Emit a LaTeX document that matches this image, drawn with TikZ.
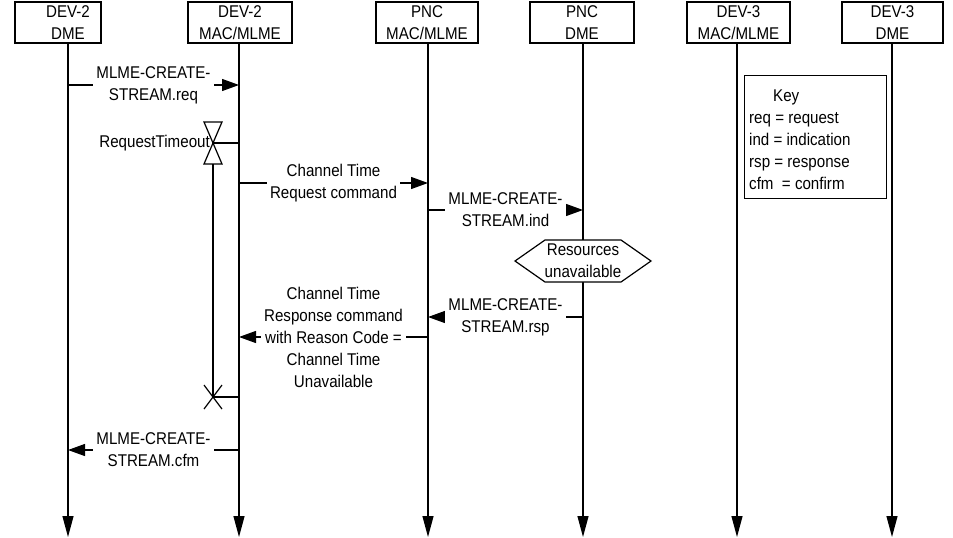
\documentclass[tikz,border=0pt]{standalone}
\usepackage{fontspec}
\setmainfont{Liberation Sans}[FakeStretch=0.89]
\usetikzlibrary{arrows.meta}
\begin{document}
\begin{tikzpicture}[x=1pt,y=-1pt,
  every node/.style={font=\fontsize{17}{22}\selectfont, inner sep=0pt},
  hdr/.style={draw, line width=1.2pt, minimum height=41pt, inner sep=0pt},
  life/.style={line width=1.2pt, -{Triangle[length=21pt,width=11pt]}},
  msg/.style={line width=1.2pt, -{Triangle[length=17pt,width=12pt]}},
  thin/.style={line width=1.2pt},
  lbl/.style={fill=white, align=center, inner xsep=3pt, inner ysep=1pt},
]
\useasboundingbox (0,0) rectangle (953,538);
% header boxes
\node[hdr, minimum width=86pt]  (h1) at (58,22.5) {};
\node[hdr, minimum width=104pt] (h2) at (240,22.5) {};
\node[hdr, minimum width=102pt] (h3) at (427,22.5) {};
\node[hdr, minimum width=104pt] (h4) at (582,22.5) {};
\node[hdr, minimum width=103pt] (h5) at (738.5,22.5) {};
\node[hdr, minimum width=101pt] (h6) at (892.5,22.5) {};
\node[align=center] (t1) at (68,22.5) {DEV-2\\DME};
\node[align=center] (t2) at (240,22.5) {DEV-2\\MAC/MLME};
\node[align=center] (t3) at (427,22.5) {PNC\\MAC/MLME};
\node[align=center] (t4) at (582,22.5) {PNC\\DME};
\node[align=center] (t5) at (738.5,22.5) {DEV-3\\MAC/MLME};
\node[align=center] (t6) at (892.5,22.5) {DEV-3\\DME};
% lifelines
\coordinate (L1) at (68,537);
\coordinate (L2) at (239,537);
\coordinate (L3) at (428,537);
\coordinate (L4) at (583,537);
\coordinate (L5) at (737,537);
\coordinate (L6) at (892,537);
\draw[life] (h1.south -| L1) -- (L1);
\draw[life] (h2.south -| L2) -- (L2);
\draw[life] (h3.south -| L3) -- (L3);
\draw[life] (h4.south -| L4) -- (L4);
\draw[life] (h5.south -| L5) -- (L5);
\draw[life] (h6.south -| L6) -- (L6);
% messages
\coordinate (a1) at (68,85);  \coordinate (b1) at (239,85);
\draw[msg] (a1) -- node[lbl] (m1) {MLME-CREATE-\\STREAM.req} (b1);
\coordinate (a2) at (239,183); \coordinate (b2) at (428,183);
\draw[msg] (a2) -- node[lbl] (m2) {Channel Time\\Request command} (b2);
\coordinate (a3) at (428,210); \coordinate (b3) at (583,210);
\draw[msg] (a3) -- node[lbl] (m3) {MLME-CREATE-\\STREAM.ind} (b3);
\coordinate (a4) at (583,317); \coordinate (b4) at (428,317);
\draw[msg] (a4) -- node[lbl] (m4) {MLME-CREATE-\\STREAM.rsp} (b4);
\coordinate (a5) at (428,337); \coordinate (b5) at (239,337);
\draw[msg] (a5) -- node[lbl] (m5) {Channel Time\\Response command\\with Reason Code =\\Channel Time\\Unavailable} (b5);
\coordinate (a6) at (239,450); \coordinate (b6) at (68,450);
\draw[msg] (a6) -- node[lbl] (m6) {MLME-CREATE-\\STREAM.cfm} (b6);
% timer
\coordinate (T1) at (213,143);
\coordinate (T2) at (213,397);
\draw[thin] (T1) -- (T1 -| L2);
\draw[thin, fill=white] (T1) ++(-9,-21) -- ++(18,0) -- ++(-18,42) -- ++(18,0) -- cycle;
\draw[thin] (T1) ++(0,21) -- (T2);
\draw[thin] (T2) ++(-9,-12) -- ++(18,24);
\draw[thin] (T2) ++(9,-12) -- ++(-18,24);
\draw[thin] (T2) -- (T2 -| L2);
\node[anchor=east] (rt) at (210,143) {RequestTimeout};
% resources unavailable
\coordinate (R) at (583,261);
\draw[thin, fill=white] (R) ++(-68,0) -- ++(30,-21) -- ++(76,0) -- ++(30,21) -- ++(-30,21) -- ++(-76,0) -- cycle;
\node[align=center] (res) at (R) {Resources\\unavailable};
% key
\node[draw, line width=1.2pt, minimum width=142pt, minimum height=123pt, anchor=north west, fill=white] (key) at (744,75) {};
\node[align=left, anchor=west] (keytxt) at (749,140) {\hspace*{24pt}Key\\req = request\\ind = indication\\rsp = response\\cfm\ \ = confirm};
\end{tikzpicture}
\end{document}
